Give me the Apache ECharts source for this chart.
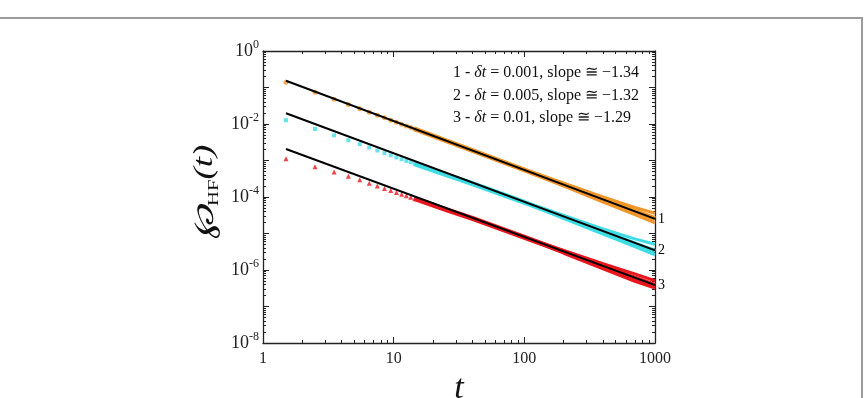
<!DOCTYPE html>
<html>
<head>
<meta charset="utf-8">
<title>HF waiting time distribution</title>
<script src="https://cdn.jsdelivr.net/npm/echarts@6/dist/echarts.min.js"></script>
<style>
    html, body { margin: 0; padding: 0; background: #fff; }
    #main { width: 865px; height: 398px; }
</style>
</head>
<body>
<div id="main"></div>
<script>
    // separate points at small t (t = 1.5 ... 14.5)
    var tEarly = [1.5, 2.5, 3.5, 4.5, 5.5, 6.5, 7.5, 8.5, 9.5, 10.5, 11.5, 12.5, 13.5, 14.5];
    var early1 = [0.139, 0.0741, 0.0479, 0.0343, 0.0263, 0.0211, 0.01746, 0.01479, 0.01274, 0.01117, 0.00989, 0.00887, 0.00802, 0.0073];
    var early2 = [0.01268, 0.0073, 0.00489, 0.00358, 0.00281, 0.00227, 0.001875, 0.001592, 0.001387, 0.001213, 0.001086, 9.75e-4, 8.91e-4, 8.09e-4];
    var early3 = [1.122e-3, 6.79e-4, 4.84e-4, 3.70e-4, 2.95e-4, 2.39e-4, 2.00e-4, 1.72e-4, 1.50e-4, 1.33e-4, 1.19e-4, 1.08e-4, 9.91e-5, 9.02e-5];

    // dense part (points overlap into a band): centre, upper and lower edge
    var tBand = [14.5, 25.5, 40.5, 100.5, 200.5, 400.5, 700.5, 999.5];
    var mid1 = [7.3e-3, 3.42e-3, 1.85e-3, 5.5e-4, 2.18e-4, 8.7e-5, 4.1e-5, 2.55e-5];
    var hi1 = [7.3e-3, 3.42e-3, 1.85e-3, 5.6e-4, 2.38e-4, 1.0e-4, 5.2e-5, 3.6e-5];
    var lo1 = [7.3e-3, 3.42e-3, 1.85e-3, 5.3e-4, 1.98e-4, 7.3e-5, 3.3e-5, 1.95e-5];
    var mid2 = [8.09e-4, 4.04e-4, 2.29e-4, 7.08e-5, 2.85e-5, 1.12e-5, 5.25e-6, 3.24e-6];
    var hi2 = [8.09e-4, 4.04e-4, 2.29e-4, 7.08e-5, 3.13e-5, 1.33e-5, 7.13e-6, 5.09e-6];
    var lo2 = [8.09e-4, 4.04e-4, 2.29e-4, 7.08e-5, 2.54e-5, 9.66e-6, 4.40e-6, 2.59e-6];
    var mid3 = [9.02e-5, 4.47e-5, 2.54e-5, 7.85e-6, 3.16e-6, 1.26e-6, 6.03e-7, 3.80e-7];
    var hi3 = [9.02e-5, 4.47e-5, 2.54e-5, 7.85e-6, 3.46e-6, 1.48e-6, 7.80e-7, 5.09e-7];
    var lo3 = [9.02e-5, 4.47e-5, 2.54e-5, 7.85e-6, 2.88e-6, 1.07e-6, 4.92e-7, 3.21e-7];

    // power-law fits (end points)
    var tFit = [1.5, 1000];
    var fit1 = [0.1535, 2.52e-5];
    var fit2 = [0.01963, 3.44e-6];
    var fit3 = [2.065e-3, 3.86e-7];

    var fitNames = ['1', '2', '3'];
    var legendLines = [
        ['1', '0.001', '\u22121.34'],
        ['2', '0.005', '\u22121.32'],
        ['3', '0.01', '\u22121.29']
    ];

    var colors = ['#F0962A', '#3EDDE6', '#E8161E'];
    var serif = "'Liberation Serif', 'DejaVu Serif', serif";

    function pairs(xs, ys) {
        return xs.map(function (x, i) { return [x, ys[i]]; });
    }

    var myChart = echarts.init(document.getElementById('main'));

    var axisLine = { show: true, lineStyle: { color: '#222', width: 1.3 } };
    var axisTick = { show: true, inside: true, length: 6, lineStyle: { color: '#222', width: 1 } };
    var minorTick = { show: true, splitNumber: 9, length: 3, lineStyle: { color: '#222', width: 1 } };

    var series = [];
    var symbols = ['circle', 'rect', 'triangle'];
    var groups = [
        [early1, mid1, hi1, lo1, fit1],
        [early2, mid2, hi2, lo2, fit2],
        [early3, mid3, hi3, lo3, fit3]
    ];
    groups.forEach(function (g, k) {
        [g[2], g[3]].forEach(function (edge) {
            series.push({
                type: 'line', data: pairs(tBand, edge), showSymbol: false, silent: true,
                lineStyle: { color: colors[k], width: 3 }, z: 2
            });
        });
        series.push({
            type: 'line', data: pairs(tBand, g[1]), showSymbol: false, silent: true,
            lineStyle: { color: colors[k], width: 5 }, z: 2
        });
        series.push({
            type: 'scatter', data: pairs(tEarly, g[0]), symbol: symbols[k],
            symbolSize: k === 1 ? 4 : 5, itemStyle: { color: colors[k] }, z: 3
        });
    });
    groups.forEach(function (g, k) {
        series.push({
            type: 'line', data: pairs(tFit, g[4]), showSymbol: false, silent: true,
            lineStyle: { color: '#000', width: 2 }, z: 5,
            endLabel: {
                show: true, formatter: fitNames[k], distance: 3,
                fontFamily: serif, fontSize: 14, color: '#000'
            }
        });
    });

    var option = {
        backgroundColor: '#fff',
        animation: false,
        grid: { left: 263, right: 210, top: 51, bottom: 55, containLabel: false, outerBoundsMode: 'none' },
        xAxis: [{
            type: 'log', logBase: 10, min: 1, max: 1000, splitNumber: 3,
            axisLine: axisLine, axisTick: axisTick, minorTick: minorTick,
            splitLine: { show: false },
            axisLabel: {
                margin: 8, fontFamily: serif, fontSize: 16, color: '#222',
                formatter: function (v) { return String(Math.round(v)); }
            },
            name: 't', nameLocation: 'middle', nameGap: 22,
            nameTextStyle: { fontFamily: serif, fontStyle: 'italic', fontSize: 34, color: '#111' }
        }, {
            type: 'log', logBase: 10, min: 1, max: 1000, splitNumber: 3, position: 'top',
            axisLine: axisLine, axisTick: axisTick, minorTick: minorTick,
            splitLine: { show: false }, axisLabel: { show: false }
        }],
        yAxis: [{
            type: 'log', logBase: 10, min: 1e-8, max: 1, splitNumber: 8,
            axisLine: axisLine, axisTick: axisTick, minorTick: minorTick,
            splitLine: { show: false },
            axisLabel: {
                margin: 4, color: '#222',
                formatter: function (v) {
                    var e = Math.round(Math.log(v) / Math.LN10);
                    if (e % 2 !== 0) return '';
                    return '{b|10}{s|' + e + '}';
                },
                rich: {
                    b: { fontFamily: serif, fontSize: 18, lineHeight: 24, color: '#222' },
                    s: { fontFamily: serif, fontSize: 12, lineHeight: 12, verticalAlign: 'top', color: '#222' }
                }
            }
        }, {
            type: 'log', logBase: 10, min: 1e-8, max: 1, splitNumber: 8, position: 'right',
            axisLine: axisLine, axisTick: axisTick, minorTick: minorTick,
            splitLine: { show: false }, axisLabel: { show: false }
        }],
        graphic: [{
            type: 'rect', silent: true, z: 0,
            shape: { x: -3, y: 18, width: 865, height: 400 },
            style: { fill: null, stroke: '#9c9c9c', lineWidth: 2 }
        }, {
            // y axis title, rotated
            type: 'text', silent: true, x: 205, y: 192, rotation: Math.PI / 2,
            scaleX: 1.15, scaleY: 0.82, z: 10,
            style: {
                text: '{p|\u2118}{s|HF}{a|(t)}', align: 'center', verticalAlign: 'middle',
                rich: {
                    p: { fontFamily: serif, fontStyle: 'italic', fontSize: 35, lineHeight: 40, fill: '#111' },
                    s: { fontFamily: serif, fontSize: 18, lineHeight: 18, verticalAlign: 'bottom', fill: '#111' },
                    a: { fontFamily: serif, fontStyle: 'italic', fontSize: 32, lineHeight: 40, fill: '#111' }
                }
            }
        }].concat(legendLines.map(function (l, i) {
            return {
                type: 'text', left: 453, top: 65 + i * 22.5, z: 10,
                style: {
                    text: '{n|' + l[0] + ' - }{d|\u03b4t}{n| = ' + l[1] + ', slope \u2245 ' + l[2] + '}',
                    rich: {
                        n: { fontFamily: serif, fontSize: 16, fill: '#111' },
                        d: { fontFamily: serif, fontStyle: 'italic', fontSize: 16, fill: '#111' }
                    }
                }
            };
        })),
        series: series
    };

    myChart.setOption(option);
</script>
</body>
</html>
